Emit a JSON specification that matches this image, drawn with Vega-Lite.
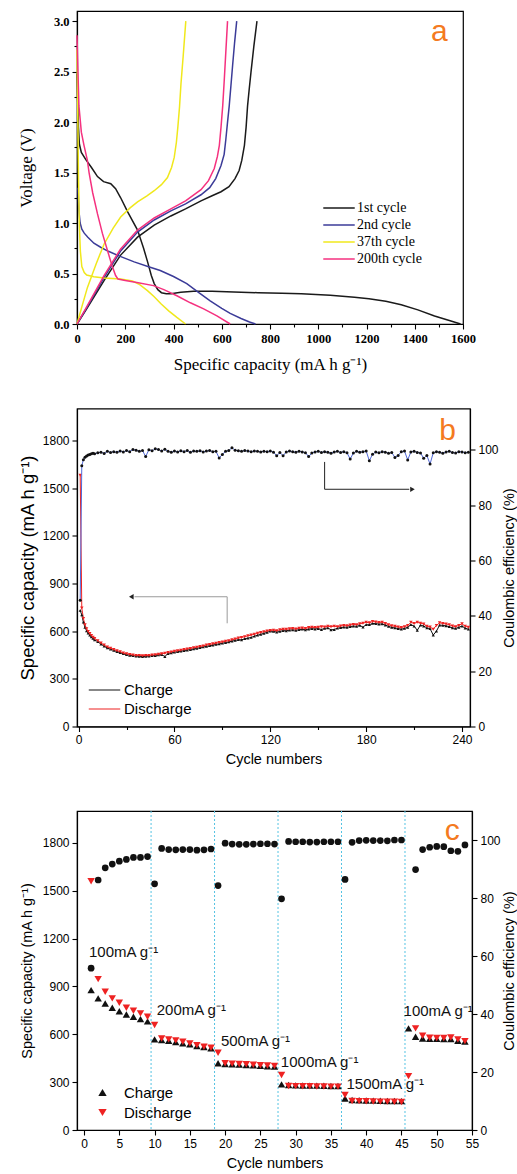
{
"$schema":"https://vega.github.io/schema/vega-lite/v6.json",
"background":"white",
"padding":{"left":16,"top":10,"right":0,"bottom":0},
"bounds":"flush",
"spacing":84.5,
"resolve":{"scale":{"color":"independent","shape":"independent"},"legend":{"color":"independent","shape":"independent"}},
"datasets":{
"curves":[
{"cycle":"1st cycle","branch":"d","q":0,"v":2.48},{"cycle":"1st cycle","branch":"d","q":3,"v":2.2},{"cycle":"1st cycle","branch":"d","q":6,"v":1.95},{"cycle":"1st cycle","branch":"d","q":10,"v":1.78},{"cycle":"1st cycle","branch":"d","q":18,"v":1.70},{"cycle":"1st cycle","branch":"d","q":36,"v":1.63},{"cycle":"1st cycle","branch":"d","q":60,"v":1.55},{"cycle":"1st cycle","branch":"d","q":85,"v":1.46},{"cycle":"1st cycle","branch":"d","q":110,"v":1.41},{"cycle":"1st cycle","branch":"d","q":140,"v":1.39},{"cycle":"1st cycle","branch":"d","q":160,"v":1.34},{"cycle":"1st cycle","branch":"d","q":181,"v":1.25},{"cycle":"1st cycle","branch":"d","q":210,"v":1.11},{"cycle":"1st cycle","branch":"d","q":251,"v":0.93},{"cycle":"1st cycle","branch":"d","q":276,"v":0.75},{"cycle":"1st cycle","branch":"d","q":292,"v":0.62},{"cycle":"1st cycle","branch":"d","q":308,"v":0.48},{"cycle":"1st cycle","branch":"d","q":320,"v":0.40},{"cycle":"1st cycle","branch":"d","q":335,"v":0.34},{"cycle":"1st cycle","branch":"d","q":350,"v":0.31},{"cycle":"1st cycle","branch":"d","q":370,"v":0.30},{"cycle":"1st cycle","branch":"d","q":390,"v":0.30},{"cycle":"1st cycle","branch":"d","q":430,"v":0.315},{"cycle":"1st cycle","branch":"d","q":483,"v":0.325},{"cycle":"1st cycle","branch":"d","q":560,"v":0.325},{"cycle":"1st cycle","branch":"d","q":650,"v":0.318},{"cycle":"1st cycle","branch":"d","q":750,"v":0.31},{"cycle":"1st cycle","branch":"d","q":850,"v":0.305},{"cycle":"1st cycle","branch":"d","q":930,"v":0.30},{"cycle":"1st cycle","branch":"d","q":1050,"v":0.285},{"cycle":"1st cycle","branch":"d","q":1150,"v":0.265},{"cycle":"1st cycle","branch":"d","q":1210,"v":0.25},{"cycle":"1st cycle","branch":"d","q":1280,"v":0.225},{"cycle":"1st cycle","branch":"d","q":1344,"v":0.19},{"cycle":"1st cycle","branch":"d","q":1413,"v":0.14},{"cycle":"1st cycle","branch":"d","q":1482,"v":0.08},{"cycle":"1st cycle","branch":"d","q":1550,"v":0.03},{"cycle":"1st cycle","branch":"d","q":1590,"v":0},
{"cycle":"1st cycle","branch":"c","q":0,"v":0},{"cycle":"1st cycle","branch":"c","q":40,"v":0.15},{"cycle":"1st cycle","branch":"c","q":112,"v":0.43},{"cycle":"1st cycle","branch":"c","q":180,"v":0.68},{"cycle":"1st cycle","branch":"c","q":251,"v":0.86},{"cycle":"1st cycle","branch":"c","q":320,"v":0.98},{"cycle":"1st cycle","branch":"c","q":389,"v":1.07},{"cycle":"1st cycle","branch":"c","q":450,"v":1.14},{"cycle":"1st cycle","branch":"c","q":514,"v":1.22},{"cycle":"1st cycle","branch":"c","q":560,"v":1.27},{"cycle":"1st cycle","branch":"c","q":597,"v":1.31},{"cycle":"1st cycle","branch":"c","q":630,"v":1.36},{"cycle":"1st cycle","branch":"c","q":655,"v":1.44},{"cycle":"1st cycle","branch":"c","q":672,"v":1.52},{"cycle":"1st cycle","branch":"c","q":683,"v":1.62},{"cycle":"1st cycle","branch":"c","q":694,"v":1.77},{"cycle":"1st cycle","branch":"c","q":701,"v":1.95},{"cycle":"1st cycle","branch":"c","q":707,"v":2.16},{"cycle":"1st cycle","branch":"c","q":714,"v":2.33},{"cycle":"1st cycle","branch":"c","q":721,"v":2.49},{"cycle":"1st cycle","branch":"c","q":733,"v":2.75},{"cycle":"1st cycle","branch":"c","q":746,"v":3.0},
{"cycle":"2nd cycle","branch":"d","q":4,"v":1.35},{"cycle":"2nd cycle","branch":"d","q":8,"v":1.12},{"cycle":"2nd cycle","branch":"d","q":13,"v":1.0},{"cycle":"2nd cycle","branch":"d","q":20,"v":0.94},{"cycle":"2nd cycle","branch":"d","q":30,"v":0.9},{"cycle":"2nd cycle","branch":"d","q":45,"v":0.86},{"cycle":"2nd cycle","branch":"d","q":70,"v":0.80},{"cycle":"2nd cycle","branch":"d","q":98,"v":0.76},{"cycle":"2nd cycle","branch":"d","q":130,"v":0.72},{"cycle":"2nd cycle","branch":"d","q":179,"v":0.67},{"cycle":"2nd cycle","branch":"d","q":237,"v":0.615},{"cycle":"2nd cycle","branch":"d","q":300,"v":0.565},{"cycle":"2nd cycle","branch":"d","q":345,"v":0.53},{"cycle":"2nd cycle","branch":"d","q":400,"v":0.47},{"cycle":"2nd cycle","branch":"d","q":455,"v":0.40},{"cycle":"2nd cycle","branch":"d","q":505,"v":0.31},{"cycle":"2nd cycle","branch":"d","q":552,"v":0.23},{"cycle":"2nd cycle","branch":"d","q":600,"v":0.155},{"cycle":"2nd cycle","branch":"d","q":635,"v":0.105},{"cycle":"2nd cycle","branch":"d","q":680,"v":0.055},{"cycle":"2nd cycle","branch":"d","q":715,"v":0.02},{"cycle":"2nd cycle","branch":"d","q":740,"v":0},
{"cycle":"2nd cycle","branch":"c","q":0,"v":0},{"cycle":"2nd cycle","branch":"c","q":40,"v":0.16},{"cycle":"2nd cycle","branch":"c","q":112,"v":0.46},{"cycle":"2nd cycle","branch":"c","q":180,"v":0.72},{"cycle":"2nd cycle","branch":"c","q":251,"v":0.91},{"cycle":"2nd cycle","branch":"c","q":320,"v":1.03},{"cycle":"2nd cycle","branch":"c","q":389,"v":1.12},{"cycle":"2nd cycle","branch":"c","q":450,"v":1.19},{"cycle":"2nd cycle","branch":"c","q":514,"v":1.28},{"cycle":"2nd cycle","branch":"c","q":550,"v":1.35},{"cycle":"2nd cycle","branch":"c","q":575,"v":1.44},{"cycle":"2nd cycle","branch":"c","q":597,"v":1.57},{"cycle":"2nd cycle","branch":"c","q":610,"v":1.68},{"cycle":"2nd cycle","branch":"c","q":617,"v":1.83},{"cycle":"2nd cycle","branch":"c","q":624,"v":2.0},{"cycle":"2nd cycle","branch":"c","q":631,"v":2.16},{"cycle":"2nd cycle","branch":"c","q":638,"v":2.36},{"cycle":"2nd cycle","branch":"c","q":645,"v":2.56},{"cycle":"2nd cycle","branch":"c","q":653,"v":2.78},{"cycle":"2nd cycle","branch":"c","q":662,"v":3.0},
{"cycle":"37th cycle","branch":"d","q":0,"v":2.72},{"cycle":"37th cycle","branch":"d","q":2,"v":2.3},{"cycle":"37th cycle","branch":"d","q":4,"v":1.9},{"cycle":"37th cycle","branch":"d","q":6,"v":1.5},{"cycle":"37th cycle","branch":"d","q":8,"v":1.2},{"cycle":"37th cycle","branch":"d","q":10,"v":0.96},{"cycle":"37th cycle","branch":"d","q":14,"v":0.72},{"cycle":"37th cycle","branch":"d","q":20,"v":0.57},{"cycle":"37th cycle","branch":"d","q":30,"v":0.51},{"cycle":"37th cycle","branch":"d","q":40,"v":0.485},{"cycle":"37th cycle","branch":"d","q":70,"v":0.467},{"cycle":"37th cycle","branch":"d","q":112,"v":0.455},{"cycle":"37th cycle","branch":"d","q":181,"v":0.445},{"cycle":"37th cycle","branch":"d","q":230,"v":0.425},{"cycle":"37th cycle","branch":"d","q":260,"v":0.39},{"cycle":"37th cycle","branch":"d","q":292,"v":0.33},{"cycle":"37th cycle","branch":"d","q":320,"v":0.27},{"cycle":"37th cycle","branch":"d","q":348,"v":0.2},{"cycle":"37th cycle","branch":"d","q":380,"v":0.13},{"cycle":"37th cycle","branch":"d","q":414,"v":0.065},{"cycle":"37th cycle","branch":"d","q":450,"v":0},
{"cycle":"37th cycle","branch":"c","q":0,"v":0},{"cycle":"37th cycle","branch":"c","q":20,"v":0.17},{"cycle":"37th cycle","branch":"c","q":43,"v":0.36},{"cycle":"37th cycle","branch":"c","q":80,"v":0.6},{"cycle":"37th cycle","branch":"c","q":112,"v":0.79},{"cycle":"37th cycle","branch":"c","q":150,"v":0.95},{"cycle":"37th cycle","branch":"c","q":181,"v":1.06},{"cycle":"37th cycle","branch":"c","q":220,"v":1.15},{"cycle":"37th cycle","branch":"c","q":251,"v":1.21},{"cycle":"37th cycle","branch":"c","q":290,"v":1.27},{"cycle":"37th cycle","branch":"c","q":320,"v":1.32},{"cycle":"37th cycle","branch":"c","q":350,"v":1.38},{"cycle":"37th cycle","branch":"c","q":375,"v":1.45},{"cycle":"37th cycle","branch":"c","q":392,"v":1.55},{"cycle":"37th cycle","branch":"c","q":403,"v":1.65},{"cycle":"37th cycle","branch":"c","q":412,"v":1.8},{"cycle":"37th cycle","branch":"c","q":418,"v":1.95},{"cycle":"37th cycle","branch":"c","q":425,"v":2.15},{"cycle":"37th cycle","branch":"c","q":431,"v":2.38},{"cycle":"37th cycle","branch":"c","q":440,"v":2.65},{"cycle":"37th cycle","branch":"c","q":451,"v":3.0},
{"cycle":"200th cycle","branch":"d","q":0,"v":2.86},{"cycle":"200th cycle","branch":"d","q":4,"v":2.5},{"cycle":"200th cycle","branch":"d","q":8,"v":2.16},{"cycle":"200th cycle","branch":"d","q":18,"v":1.9},{"cycle":"200th cycle","branch":"d","q":29,"v":1.77},{"cycle":"200th cycle","branch":"d","q":43,"v":1.62},{"cycle":"200th cycle","branch":"d","q":50,"v":1.50},{"cycle":"200th cycle","branch":"d","q":65,"v":1.3},{"cycle":"200th cycle","branch":"d","q":85,"v":1.09},{"cycle":"200th cycle","branch":"d","q":105,"v":0.9},{"cycle":"200th cycle","branch":"d","q":126,"v":0.73},{"cycle":"200th cycle","branch":"d","q":145,"v":0.58},{"cycle":"200th cycle","branch":"d","q":160,"v":0.48},{"cycle":"200th cycle","branch":"d","q":170,"v":0.445},{"cycle":"200th cycle","branch":"d","q":200,"v":0.43},{"cycle":"200th cycle","branch":"d","q":248,"v":0.41},{"cycle":"200th cycle","branch":"d","q":317,"v":0.38},{"cycle":"200th cycle","branch":"d","q":360,"v":0.34},{"cycle":"200th cycle","branch":"d","q":414,"v":0.28},{"cycle":"200th cycle","branch":"d","q":470,"v":0.21},{"cycle":"200th cycle","branch":"d","q":525,"v":0.15},{"cycle":"200th cycle","branch":"d","q":580,"v":0.08},{"cycle":"200th cycle","branch":"d","q":635,"v":0},
{"cycle":"200th cycle","branch":"c","q":0,"v":0},{"cycle":"200th cycle","branch":"c","q":40,"v":0.17},{"cycle":"200th cycle","branch":"c","q":112,"v":0.48},{"cycle":"200th cycle","branch":"c","q":180,"v":0.74},{"cycle":"200th cycle","branch":"c","q":251,"v":0.93},{"cycle":"200th cycle","branch":"c","q":320,"v":1.05},{"cycle":"200th cycle","branch":"c","q":389,"v":1.14},{"cycle":"200th cycle","branch":"c","q":450,"v":1.22},{"cycle":"200th cycle","branch":"c","q":514,"v":1.33},{"cycle":"200th cycle","branch":"c","q":545,"v":1.42},{"cycle":"200th cycle","branch":"c","q":569,"v":1.54},{"cycle":"200th cycle","branch":"c","q":582,"v":1.66},{"cycle":"200th cycle","branch":"c","q":590,"v":1.77},{"cycle":"200th cycle","branch":"c","q":597,"v":1.95},{"cycle":"200th cycle","branch":"c","q":604,"v":2.16},{"cycle":"200th cycle","branch":"c","q":610,"v":2.4},{"cycle":"200th cycle","branch":"c","q":617,"v":2.7},{"cycle":"200th cycle","branch":"c","q":624,"v":3.0}
],
"cyc":[
{"c":1,"Discharge":1580,"Charge":730,"ce":45.7},{"c":2,"Discharge":745,"Charge":702,"ce":94.3},{"c":3,"Discharge":680,"Charge":656,"ce":96.5},{"c":4,"Discharge":640,"Charge":624,"ce":97.4},{"c":5,"Discharge":615,"Charge":602,"ce":97.8},{"c":6,"Discharge":598,"Charge":587,"ce":98.2},{"c":7,"Discharge":585,"Charge":575,"ce":98.4},{"c":8,"Discharge":572,"Charge":563,"ce":98.6},{"c":9,"Discharge":562,"Charge":554,"ce":98.8},{"c":10,"Discharge":554,"Charge":545,"ce":98.6},
{"c":12,"Discharge":540,"Charge":533,"ce":99.0},{"c":14,"Discharge":525,"Charge":518,"ce":99.2},{"c":16,"Discharge":512,"Charge":505,"ce":98.7},{"c":18,"Discharge":500,"Charge":494,"ce":99.5},{"c":20,"Discharge":492,"Charge":486,"ce":99.1},{"c":22,"Discharge":484,"Charge":478,"ce":99.4},{"c":24,"Discharge":476,"Charge":471,"ce":99.2},{"c":26,"Discharge":470,"Charge":464,"ce":99.6},{"c":28,"Discharge":462,"Charge":458,"ce":99.3},{"c":30,"Discharge":457,"Charge":452,"ce":99.8},
{"c":32,"Discharge":453,"Charge":448,"ce":99.4},{"c":34,"Discharge":449,"Charge":445,"ce":100.2},{"c":36,"Discharge":447,"Charge":443,"ce":99.9},{"c":38,"Discharge":446,"Charge":441,"ce":99.5},{"c":40,"Discharge":445,"Charge":440,"ce":99.8},{"c":42,"Discharge":446,"Charge":441,"ce":97.6},{"c":44,"Discharge":447,"Charge":443,"ce":100.1},{"c":46,"Discharge":449,"Charge":445,"ce":99.7},{"c":48,"Discharge":452,"Charge":446,"ce":100.4},{"c":50,"Discharge":455,"Charge":450,"ce":100.2},
{"c":52,"Discharge":458,"Charge":452,"ce":99.6},{"c":54,"Discharge":461,"Charge":440,"ce":100.3},{"c":56,"Discharge":465,"Charge":459,"ce":99.5},{"c":58,"Discharge":469,"Charge":463,"ce":99.2},{"c":60,"Discharge":474,"Charge":467,"ce":99.6},{"c":62,"Discharge":477,"Charge":471,"ce":99.3},{"c":64,"Discharge":480,"Charge":474,"ce":99.7},{"c":66,"Discharge":484,"Charge":477,"ce":99.4},{"c":68,"Discharge":487,"Charge":481,"ce":99.8},{"c":70,"Discharge":491,"Charge":484,"ce":99.2},
{"c":72,"Discharge":495,"Charge":488,"ce":99.6},{"c":74,"Discharge":499,"Charge":491,"ce":99.5},{"c":76,"Discharge":503,"Charge":496,"ce":99.7},{"c":78,"Discharge":507,"Charge":500,"ce":99.3},{"c":80,"Discharge":512,"Charge":504,"ce":99.6},{"c":82,"Discharge":516,"Charge":508,"ce":99.8},{"c":84,"Discharge":520,"Charge":512,"ce":99.4},{"c":86,"Discharge":524,"Charge":516,"ce":99.5},{"c":88,"Discharge":528,"Charge":519,"ce":97.1},{"c":90,"Discharge":532,"Charge":524,"ce":98.4},
{"c":92,"Discharge":536,"Charge":528,"ce":99.5},{"c":94,"Discharge":540,"Charge":532,"ce":99.8},{"c":96,"Discharge":545,"Charge":537,"ce":100.8},{"c":98,"Discharge":550,"Charge":541,"ce":99.9},{"c":100,"Discharge":556,"Charge":546,"ce":99.7},{"c":102,"Discharge":560,"Charge":545,"ce":99.5},{"c":104,"Discharge":565,"Charge":552,"ce":99.8},{"c":106,"Discharge":570,"Charge":556,"ce":99.6},{"c":108,"Discharge":575,"Charge":560,"ce":99.4},{"c":110,"Discharge":580,"Charge":568,"ce":99.6},
{"c":112,"Discharge":586,"Charge":574,"ce":99.5},{"c":114,"Discharge":591,"Charge":580,"ce":99.3},{"c":116,"Discharge":596,"Charge":586,"ce":99.5},{"c":118,"Discharge":600,"Charge":592,"ce":99.4},{"c":120,"Discharge":604,"Charge":600,"ce":99.6},{"c":122,"Discharge":606,"Charge":598,"ce":99.2},{"c":124,"Discharge":602,"Charge":594,"ce":97.9},{"c":126,"Discharge":608,"Charge":598,"ce":99.1},{"c":128,"Discharge":612,"Charge":603,"ce":97.9},{"c":130,"Discharge":611,"Charge":602,"ce":99.3},
{"c":132,"Discharge":614,"Charge":606,"ce":99.6},{"c":134,"Discharge":616,"Charge":608,"ce":99.4},{"c":136,"Discharge":613,"Charge":605,"ce":99.2},{"c":138,"Discharge":618,"Charge":609,"ce":99.5},{"c":140,"Discharge":620,"Charge":612,"ce":99.3},{"c":142,"Discharge":617,"Charge":608,"ce":99.0},{"c":144,"Discharge":622,"Charge":613,"ce":97.6},{"c":146,"Discharge":624,"Charge":615,"ce":98.9},{"c":148,"Discharge":622,"Charge":613,"ce":99.3},{"c":150,"Discharge":625,"Charge":616,"ce":99.5},
{"c":152,"Discharge":628,"Charge":610,"ce":99.1},{"c":154,"Discharge":626,"Charge":617,"ce":99.4},{"c":156,"Discharge":630,"Charge":620,"ce":99.2},{"c":158,"Discharge":628,"Charge":608,"ce":98.8},{"c":160,"Discharge":631,"Charge":610,"ce":99.3},{"c":162,"Discharge":627,"Charge":618,"ce":99.5},{"c":164,"Discharge":632,"Charge":622,"ce":99.1},{"c":166,"Discharge":635,"Charge":625,"ce":99.4},{"c":168,"Discharge":633,"Charge":624,"ce":99.0},{"c":170,"Discharge":638,"Charge":628,"ce":96.7},
{"c":172,"Discharge":642,"Charge":632,"ce":98.9},{"c":174,"Discharge":640,"Charge":630,"ce":99.5},{"c":176,"Discharge":646,"Charge":636,"ce":99.2},{"c":178,"Discharge":650,"Charge":625,"ce":99.4},{"c":180,"Discharge":655,"Charge":640,"ce":99.6},{"c":182,"Discharge":652,"Charge":640,"ce":96.1},{"c":184,"Discharge":660,"Charge":648,"ce":98.5},{"c":186,"Discharge":658,"Charge":647,"ce":99.3},{"c":188,"Discharge":654,"Charge":644,"ce":99.0},{"c":190,"Discharge":656,"Charge":645,"ce":99.4},
{"c":192,"Discharge":648,"Charge":638,"ce":99.2},{"c":194,"Discharge":640,"Charge":630,"ce":98.8},{"c":196,"Discharge":633,"Charge":623,"ce":99.1},{"c":198,"Discharge":630,"Charge":620,"ce":97.3},{"c":200,"Discharge":626,"Charge":616,"ce":98.0},{"c":202,"Discharge":622,"Charge":612,"ce":99.4},{"c":204,"Discharge":628,"Charge":617,"ce":99.6},{"c":206,"Discharge":635,"Charge":624,"ce":96.4},{"c":208,"Discharge":655,"Charge":640,"ce":99.3},{"c":210,"Discharge":648,"Charge":632,"ce":99.5},
{"c":212,"Discharge":655,"Charge":605,"ce":99.1},{"c":214,"Discharge":650,"Charge":638,"ce":98.9},{"c":216,"Discharge":645,"Charge":632,"ce":97.0},{"c":218,"Discharge":630,"Charge":620,"ce":98.0},{"c":220,"Discharge":626,"Charge":615,"ce":94.9},{"c":222,"Discharge":612,"Charge":575,"ce":99.0},{"c":224,"Discharge":636,"Charge":600,"ce":99.4},{"c":226,"Discharge":652,"Charge":638,"ce":99.2},{"c":228,"Discharge":648,"Charge":636,"ce":98.8},{"c":230,"Discharge":645,"Charge":633,"ce":99.3},
{"c":232,"Discharge":640,"Charge":628,"ce":99.5},{"c":234,"Discharge":632,"Charge":620,"ce":99.1},{"c":236,"Discharge":628,"Charge":617,"ce":98.9},{"c":238,"Discharge":636,"Charge":624,"ce":99.4},{"c":240,"Discharge":646,"Charge":632,"ce":99.3},{"c":242,"Discharge":630,"Charge":618,"ce":99.0},{"c":244,"Discharge":625,"Charge":612,"ce":99.2}
],
"rate":[
{"c":1,"Charge":877,"Discharge":1560,"ce":55.8},{"c":2,"Charge":825,"Discharge":946,"ce":86.2},{"c":3,"Charge":793,"Discharge":867,"ce":90.4},{"c":4,"Charge":766,"Discharge":825,"ce":91.7},{"c":5,"Charge":745,"Discharge":798,"ce":92.7},{"c":6,"Charge":724,"Discharge":766,"ce":93.3},{"c":7,"Charge":710,"Discharge":748,"ce":94.0},{"c":8,"Charge":695,"Discharge":731,"ce":94.0},{"c":9,"Charge":681,"Discharge":710,"ce":94.3},
{"c":10,"Charge":568,"Discharge":658,"ce":84.9},{"c":11,"Charge":564,"Discharge":574,"ce":97.1},{"c":12,"Charge":560,"Discharge":568,"ce":96.7},{"c":13,"Charge":551,"Discharge":562,"ce":96.6},{"c":14,"Charge":543,"Discharge":553,"ce":96.7},{"c":15,"Charge":537,"Discharge":543,"ce":96.7},{"c":16,"Charge":526,"Discharge":532,"ce":96.5},{"c":17,"Charge":520,"Discharge":522,"ce":96.6},{"c":18,"Charge":512,"Discharge":516,"ce":96.9},
{"c":19,"Charge":418,"Discharge":484,"ce":84.3},{"c":20,"Charge":414,"Discharge":418,"ce":98.9},{"c":21,"Charge":412,"Discharge":416,"ce":98.6},{"c":22,"Charge":410,"Discharge":414,"ce":98.5},{"c":23,"Charge":408,"Discharge":412,"ce":98.5},{"c":24,"Charge":405,"Discharge":409,"ce":98.6},{"c":25,"Charge":402,"Discharge":406,"ce":98.7},{"c":26,"Charge":400,"Discharge":404,"ce":98.7},{"c":27,"Charge":398,"Discharge":402,"ce":98.6},
{"c":28,"Charge":286,"Discharge":345,"ce":79.7},{"c":29,"Charge":282,"Discharge":276,"ce":99.5},{"c":30,"Charge":280,"Discharge":275,"ce":99.4},{"c":31,"Charge":279,"Discharge":274,"ce":99.4},{"c":32,"Charge":278,"Discharge":274,"ce":99.3},{"c":33,"Charge":278,"Discharge":273,"ce":99.3},{"c":34,"Charge":277,"Discharge":273,"ce":99.4},{"c":35,"Charge":276,"Discharge":272,"ce":99.4},{"c":36,"Charge":276,"Discharge":272,"ce":99.4},
{"c":37,"Charge":198,"Discharge":219,"ce":86.4},{"c":38,"Charge":188,"Discharge":182,"ce":99.2},{"c":39,"Charge":186,"Discharge":181,"ce":99.8},{"c":40,"Charge":185,"Discharge":180,"ce":99.9},{"c":41,"Charge":184,"Discharge":179,"ce":99.8},{"c":42,"Charge":183,"Discharge":178,"ce":99.8},{"c":43,"Charge":182,"Discharge":178,"ce":99.7},{"c":44,"Charge":182,"Discharge":177,"ce":100.0},{"c":45,"Charge":181,"Discharge":176,"ce":100.0},
{"c":46,"Charge":637,"Discharge":338,"ce":null},{"c":47,"Charge":585,"Discharge":637,"ce":89.8},{"c":48,"Charge":574,"Discharge":591,"ce":96.7},{"c":49,"Charge":572,"Discharge":578,"ce":97.5},{"c":50,"Charge":572,"Discharge":577,"ce":97.8},{"c":51,"Charge":571,"Discharge":577,"ce":97.7},{"c":52,"Charge":570,"Discharge":580,"ce":96.3},{"c":53,"Charge":560,"Discharge":568,"ce":96.1},{"c":54,"Charge":555,"Discharge":557,"ce":98.3}
]
},
"vconcat":[
{
"width":386,"height":313,
"data":{"name":"curves"},
"encoding":{
"x":{"field":"q","type":"quantitative","scale":{"domain":[0,1600],"nice":false,"zero":false},
"axis":{"title":"Specific capacity (mA h g⁻¹)","values":[0,100,200,300,400,500,600,700,800,900,1000,1100,1200,1300,1400,1500,1600],"format":"d","labelExpr":"datum.value % 200 === 0 ? datum.label : ''","tickSize":{"condition":{"test":"datum.value % 200 !== 0","value":3},"value":5},"labelFont":"Liberation Serif","labelFontWeight":"bold","labelFontSize":12.5,"labelPadding":3,"titleFont":"Liberation Serif","titleFontSize":17,"titlePadding":12}},
"y":{"field":"v","type":"quantitative","scale":{"domain":[0,3.1],"nice":false},
"axis":{"title":"Voltage (V)","values":[0,0.25,0.5,0.75,1,1.25,1.5,1.75,2,2.25,2.5,2.75,3],"labelExpr":"datum.value % 0.5 === 0 ? format(datum.value, '.1f') : ''","tickSize":{"condition":{"test":"datum.value % 0.5 !== 0","value":3},"value":5},"labelFont":"Liberation Serif","labelFontWeight":"bold","labelFontSize":12.5,"labelPadding":3,"titleFont":"Liberation Serif","titleFontSize":17,"titlePadding":18}}
},
"layer":[
{"mark":{"type":"line","strokeWidth":1.5},
"encoding":{"color":{"field":"cycle","type":"nominal","scale":{"domain":["1st cycle","2nd cycle","37th cycle","200th cycle"],"range":["#1a1a1a","#3b3b98","#f0e81c","#f5317f"]},
"legend":{"orient":"none","legendX":255,"legendY":190,"title":null,"symbolType":"M-3,0H3","symbolSize":110,"symbolStrokeWidth":1.5,"labelFont":"Liberation Serif","labelFontSize":14,"labelOffset":11,"rowPadding":3}},
"detail":{"field":"branch","type":"nominal"}}},
{"data":{"values":[{"q":1502,"v":2.8,"t":"a"}]},
"mark":{"type":"text","font":"Liberation Sans","fontSize":30,"color":"#f47a20","align":"center","baseline":"alphabetic"},
"encoding":{"text":{"field":"t","type":"nominal"}}}
]
},
{
"width":393,"height":318,
"data":{"name":"cyc"},
"encoding":{
"x":{"field":"c","type":"quantitative","scale":{"domain":[-1,245],"nice":false,"zero":false},
"axis":{"title":"Cycle numbers","values":[0,30,60,90,120,150,180,210,240],"labelExpr":"datum.value % 60 === 0 ? datum.label : ''","tickSize":{"condition":{"test":"datum.value % 60 !== 0","value":3},"value":5},"labelFont":"Liberation Sans","labelFontSize":12,"labelPadding":3,"titleFont":"Liberation Sans","titleFontSize":14.5,"titlePadding":7}}
},
"layer":[
{"encoding":{"y":{"field":"cap","type":"quantitative","scale":{"domain":[0,2000],"nice":false},
"axis":{"orient":"left","title":"Specific capacity (mA h g⁻¹)","values":[0,300,600,900,1200,1500,1800],"format":"d","tickSize":5,"labelFont":"Liberation Sans","labelFontSize":12,"labelPadding":3,"titleFont":"Liberation Sans","titleFontSize":18.5,"titlePadding":5}}},
"layer":[
{"transform":[{"fold":["Charge","Discharge"],"as":["Series","cap"]}],
"mark":{"type":"line","strokeWidth":1},
"encoding":{"color":{"field":"Series","type":"nominal","scale":{"domain":["Charge","Discharge"],"range":["#111111","#ee2222"]},
"legend":{"orient":"none","legendX":20,"legendY":274,"title":null,"symbolType":"M-3,0H3","symbolSize":110,"symbolStrokeWidth":1.2,"labelFont":"Liberation Sans","labelFontSize":15,"labelOffset":12,"rowPadding":3}}}},
{"transform":[{"fold":["Charge"],"as":["Series","cap"]}],
"mark":{"type":"point","shape":"triangle-up","filled":true,"size":10,"color":"#111111","opacity":1}},
{"transform":[{"fold":["Discharge"],"as":["Series","cap"]}],
"mark":{"type":"point","shape":"triangle-down","filled":true,"size":12,"color":"#ee2222","opacity":1}},
{"data":{"values":[{"c":93,"cap":649,"c2":93,"cap2":816},{"c":93,"cap":816,"c2":35,"cap2":816}]},
"mark":{"type":"rule","color":"#9a9a9a","strokeWidth":1},
"encoding":{"x2":{"field":"c2"},"y2":{"field":"cap2"}}},
{"data":{"values":[{"c":33,"cap":816}]},
"mark":{"type":"point","shape":"triangle-left","filled":true,"size":28,"color":"#222222","opacity":1}},
{"data":{"values":[{"c":154,"cap":1664,"c2":154,"cap2":1492},{"c":154,"cap":1492,"c2":207,"cap2":1492}]},
"mark":{"type":"rule","color":"#222222","strokeWidth":1},
"encoding":{"x2":{"field":"c2"},"y2":{"field":"cap2"}}},
{"data":{"values":[{"c":209,"cap":1492}]},
"mark":{"type":"point","shape":"triangle-right","filled":true,"size":28,"color":"#222222","opacity":1}},
{"data":{"values":[{"c":231,"cap":1800,"t":"b"}]},
"mark":{"type":"text","font":"Liberation Sans","fontSize":30,"color":"#f47a20","align":"center","baseline":"alphabetic"},
"encoding":{"text":{"field":"t","type":"nominal"}}}
]},
{"encoding":{"y":{"field":"ce","type":"quantitative","scale":{"domain":[0,115],"nice":false},
"axis":{"orient":"right","title":"Coulombic efficiency (%)","values":[0,20,40,60,80,100],"format":"d","tickSize":5,"labelFont":"Liberation Sans","labelFontSize":12,"labelPadding":3,"titleFont":"Liberation Sans","titleFontSize":14.5,"titlePadding":4,"titleAngle":270,"titleBaseline":"top"}}},
"layer":[
{"mark":{"type":"line","color":"#5068d8","strokeWidth":1},"encoding":{}},
{"mark":{"type":"point","shape":"circle","filled":true,"size":9,"color":"#111111","opacity":1}}
]}
],
"resolve":{"scale":{"y":"independent"}}
},
{
"width":395,"height":319,
"data":{"name":"rate"},
"encoding":{
"x":{"field":"c","type":"quantitative","scale":{"domain":[-1,55],"nice":false,"zero":false},
"axis":{"title":"Cycle numbers","values":[0,5,10,15,20,25,30,35,40,45,50,55],"format":"d","tickSize":5,"labelFont":"Liberation Sans","labelFontSize":12,"labelPadding":3,"titleFont":"Liberation Sans","titleFontSize":14.5,"titlePadding":7}}
},
"layer":[
{"data":{"values":[{"c":9.5},{"c":18.5},{"c":27.5},{"c":36.5},{"c":45.5}]},
"mark":{"type":"rule","color":"#55c3e3","strokeDash":[2,2],"strokeWidth":1},"encoding":{}},
{"encoding":{"y":{"field":"cap","type":"quantitative","scale":{"domain":[0,2000],"nice":false},
"axis":{"orient":"left","title":"Specific capacity (mA h g⁻¹)","values":[0,300,600,900,1200,1500,1800],"format":"d","tickSize":5,"labelFont":"Liberation Sans","labelFontSize":12,"labelPadding":3,"titleFont":"Liberation Sans","titleFontSize":14.4,"titlePadding":8}}},
"layer":[
{"transform":[{"fold":["Charge","Discharge"],"as":["Series","cap"]}],
"mark":{"type":"point","filled":true,"size":55,"opacity":1},
"encoding":{
"color":{"field":"Series","type":"nominal","scale":{"domain":["Charge","Discharge"],"range":["#111111","#ee2222"]},"legend":{"orient":"none","legendX":18,"legendY":274,"title":null,"symbolSize":70,"labelFont":"Liberation Sans","labelFontSize":15,"labelOffset":14,"rowPadding":4}},
"shape":{"field":"Series","type":"nominal","scale":{"domain":["Charge","Discharge"],"range":["triangle-up","triangle-down"]},"legend":{"orient":"none","legendX":18,"legendY":274,"title":null,"symbolSize":70,"labelFont":"Liberation Sans","labelFontSize":15,"labelOffset":14,"rowPadding":4}}}},
{"data":{"values":[{"c":0.7,"cap":1117,"t":"100mA g⁻¹"},{"c":10.3,"cap":752,"t":"200mA g⁻¹"},{"c":19.4,"cap":557,"t":"500mA g⁻¹"},{"c":27.9,"cap":424,"t":"1000mA g⁻¹"},{"c":37.2,"cap":288,"t":"1500mA g⁻¹"},{"c":45.3,"cap":745,"t":"100mA g⁻¹"}]},
"mark":{"type":"text","font":"Liberation Sans","fontSize":15,"align":"left","baseline":"middle","color":"#111111"},
"encoding":{"text":{"field":"t","type":"nominal"}}},
{"data":{"values":[{"c":52.2,"cap":1821,"t":"c"}]},
"mark":{"type":"text","font":"Liberation Sans","fontSize":30,"color":"#f47a20","align":"center","baseline":"alphabetic"},
"encoding":{"text":{"field":"t","type":"nominal"}}}
]},
{"encoding":{"y":{"field":"ce","type":"quantitative","scale":{"domain":[0,110],"nice":false},
"axis":{"orient":"right","title":"Coulombic efficiency (%)","values":[0,20,40,60,80,100],"format":"d","tickSize":5,"labelFont":"Liberation Sans","labelFontSize":12,"labelPadding":3,"titleFont":"Liberation Sans","titleFontSize":14.5,"titlePadding":2,"titleAngle":270,"titleBaseline":"top"}}},
"mark":{"type":"point","shape":"circle","filled":true,"size":45,"color":"#111111","opacity":1}}
],
"resolve":{"scale":{"y":"independent"}}
}
],
"config":{
"font":"Liberation Sans",
"view":{"stroke":"#000000","strokeWidth":1.2},
"axis":{"grid":false,"domainColor":"#000000","domainWidth":1.2,"tickColor":"#000000","tickWidth":1.1,"labelColor":"#000000","titleColor":"#000000","titleFontWeight":"normal","labelOverlap":false,"labelFlush":false},
"legend":{"padding":0,"labelColor":"#000000"}
}
}
